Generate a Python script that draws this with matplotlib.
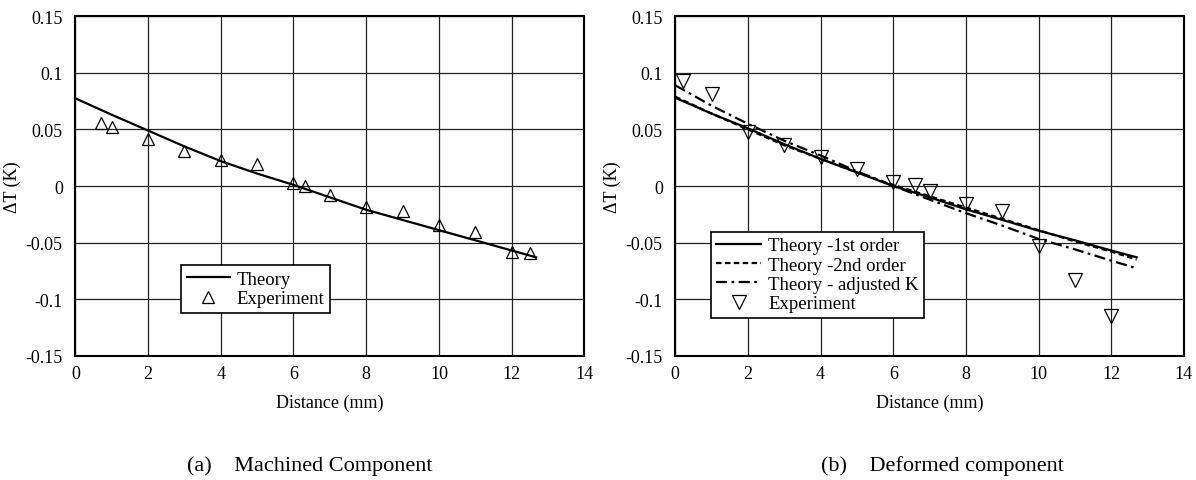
import matplotlib
matplotlib.use("Agg")
import matplotlib.pyplot as plt
from matplotlib.ticker import FixedLocator

plt.rcParams['font.family'] = ['Liberation Serif', 'DejaVu Serif']

# ---------------- data ----------------
# (a) machined component
theory_a_x = [0, 1, 2, 3, 4, 5, 6, 7, 8, 9, 10, 11, 12, 12.67]
theory_a_y = [0.0775, 0.063, 0.049, 0.035, 0.022, 0.011, 0.001, -0.010,
              -0.021, -0.030, -0.039, -0.048, -0.057, -0.063]
exp_a_x = [0.71, 1.0, 2, 3, 4, 5, 6, 6.33, 7, 8, 9, 10, 11, 12, 12.5]
exp_a_y = [0.0558, 0.0523, 0.0417, 0.0312, 0.0234, 0.0193, 0.0028, 0.0003,
           -0.0081, -0.0186, -0.0225, -0.0347, -0.0403, -0.0586, -0.059]

# (b) deformed component
theory_b_x = [0, 1, 2, 3, 4, 5, 6, 7, 8, 9, 10, 11, 12, 12.7]
theory1_b_y = [0.078, 0.064, 0.051, 0.037, 0.024, 0.012, 0.000, -0.010,
               -0.0206, -0.030, -0.0395, -0.048, -0.057, -0.063]
theory2_b_y = [0.079, 0.064, 0.050, 0.036, 0.024, 0.012, 0.001, -0.009,
               -0.019, -0.029, -0.039, -0.049, -0.058, -0.065]
theoryK_b_y = [0.089, 0.071, 0.055, 0.040, 0.027, 0.013, 0.000, -0.012,
               -0.024, -0.035, -0.0468, -0.056, -0.066, -0.0727]
exp_b_x = [0.2, 1.0, 2, 3, 4, 5, 6, 6.6, 7, 8, 9, 10, 11, 12]
exp_b_y = [0.093, 0.0813, 0.0474, 0.036, 0.0259, 0.0147, 0.0032, 0.001,
           -0.0047, -0.0159, -0.0218, -0.0527, -0.083, -0.1146]

x_ticks = [0, 2, 4, 6, 8, 10, 12, 14]
x_ticklabels = ['0', '2', '4', '6', '8', '10', '12', '14']
y_ticks = [-0.15, -0.1, -0.05, 0, 0.05, 0.1, 0.15]
y_ticklabels = ['-0.15', '-0.1', '-0.05', '0', '0.05', '0.1', '0.15']

xlabel = 'Distance (mm)'
ylabel = '\u0394T (K)'
captions = ['(a)    Machined Component', '(b)    Deformed component']

FS = 13

fig = plt.figure(figsize=(11.96, 4.81), dpi=100)
axA = fig.add_axes([0.063, 0.2584, 0.4256, 0.7056])
axB = fig.add_axes([0.5646, 0.2584, 0.4253, 0.7056])


def style(ax):
    ax.set_xlim(0, 14)
    ax.set_ylim(-0.15, 0.15)
    ax.xaxis.set_major_locator(FixedLocator(x_ticks))
    ax.yaxis.set_major_locator(FixedLocator(y_ticks))
    ax.set_xticklabels(x_ticklabels)
    ax.set_yticklabels(y_ticklabels)
    ax.tick_params(axis='both', length=0, labelsize=FS)
    ax.tick_params(axis='x', pad=7)
    ax.tick_params(axis='y', pad=9)
    ax.grid(True, color='#222222', linewidth=0.9)
    ax.set_axisbelow(True)
    for s in ax.spines.values():
        s.set_linewidth(1.5)
        s.set_color('black')
    ax.set_xlabel(xlabel, fontsize=FS, labelpad=8)
    ax.set_ylabel(ylabel, fontsize=FS, labelpad=3)


style(axA)
style(axB)

mk = dict(markerfacecolor='none', markeredgecolor='black',
          markeredgewidth=0.9, linestyle='none')

# (a)
axA.plot(theory_a_x, theory_a_y, color='black', lw=1.6, label='Theory')
axA.plot(exp_a_x, exp_a_y, marker='^', markersize=9, label='Experiment', **mk)
legA = axA.legend(loc='lower left', bbox_to_anchor=(0.208, 0.126),
                  fontsize=FS + 0.5, frameon=True, fancybox=False,
                  edgecolor='black', framealpha=1, borderpad=0.3,
                  handlelength=2.3, handletextpad=0.35, labelspacing=0.12,
                  borderaxespad=0)
legA.get_frame().set_linewidth(1.2)

# (b)
axB.plot(theory_b_x, theory1_b_y, color='black', lw=1.6, label='Theory -1st order')
axB.plot(theory_b_x, theory2_b_y, color='black', lw=1.6, linestyle=(0, (2.5, 1.5)),
         label='Theory -2nd order')
axB.plot(theory_b_x, theoryK_b_y, color='black', lw=1.6,
         linestyle=(0, (5, 2, 1.2, 2)), label='Theory - adjusted K')
axB.plot(exp_b_x, exp_b_y, marker='v', markersize=10.5, label='Experiment', **mk)
legB = axB.legend(loc='lower left', bbox_to_anchor=(0.07, 0.111),
                  fontsize=FS + 0.5, frameon=True, fancybox=False,
                  edgecolor='black', framealpha=1, borderpad=0.3,
                  handlelength=2.4, handletextpad=0.35, labelspacing=0.12,
                  borderaxespad=0)
legB.get_frame().set_linewidth(1.2)

fig.text(0.259, 0.031, captions[0], ha='center', va='center', fontsize=16)
fig.text(0.788, 0.031, captions[1], ha='center', va='center', fontsize=16)

fig.savefig('out.png', dpi=100)
